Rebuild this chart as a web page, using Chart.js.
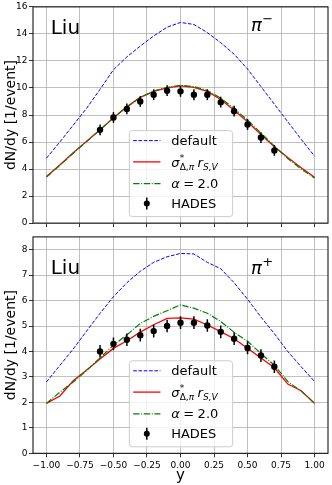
<!DOCTYPE html>
<html>
<head>
<meta charset="utf-8">
<script src="https://cdn.jsdelivr.net/npm/chart.js@4/dist/chart.umd.min.js"></script>
<style>
  html, body { margin: 0; padding: 0; background: #fff; }
  #top { position: absolute; left: 0; top: 0; }
  #bot { position: absolute; left: 0; top: 230px; }
</style>
</head>
<body>
<canvas id="top" width="332" height="230"></canvas>
<canvas id="bot" width="332" height="255"></canvas>
<script>
// rapidity grid of the model curves and of the HADES points
const rapidity = [-1.0, -0.9, -0.8, -0.7, -0.6, -0.5, -0.4, -0.3, -0.2, -0.1, 0.0, 0.1, 0.2, 0.3, 0.4, 0.5, 0.6, 0.7, 0.8, 0.9, 1.0];
const hadesRapidity = [-0.6, -0.5, -0.4, -0.3, -0.2, -0.1, 0.0, 0.1, 0.2, 0.3, 0.4, 0.5, 0.6, 0.7];

// pi- panel
const piMinusDefault = [4.8, 6.0, 7.25, 8.5, 9.9, 11.35, 12.3, 13.1, 13.85, 14.5, 14.85, 14.7, 14.1, 13.35, 12.5, 11.4, 10.1, 8.8, 7.5, 6.2, 4.95];
const piMinusSigma = [3.45, 4.3, 5.2, 6.05, 6.9, 7.8, 8.6, 9.3, 9.75, 10.0, 10.15, 10.05, 9.75, 9.15, 8.35, 7.5, 6.55, 5.65, 4.85, 4.1, 3.4];
const piMinusAlpha = [3.4, 4.27, 5.17, 6.03, 6.9, 7.8, 8.6, 9.3, 9.78, 10.05, 10.2, 10.1, 9.82, 9.25, 8.47, 7.63, 6.66, 5.7, 4.78, 4.0, 3.33];
const piMinusHades = [6.9, 7.82, 8.45, 9.0, 9.5, 9.8, 9.75, 9.5, 9.5, 8.95, 8.28, 7.3, 6.33, 5.38];
const piMinusHadesErr = [0.4, 0.4, 0.4, 0.4, 0.4, 0.4, 0.4, 0.4, 0.4, 0.4, 0.4, 0.4, 0.4, 0.4];

// pi+ panel
const piPlusDefault = [2.8, 3.45, 4.1, 4.8, 5.5, 6.15, 6.7, 7.15, 7.5, 7.72, 7.85, 7.83, 7.5, 7.25, 6.7, 6.05, 5.35, 4.7, 4.0, 3.4, 2.82];
const piPlusSigma = [1.96, 2.25, 2.85, 3.27, 3.7, 4.12, 4.42, 4.76, 5.05, 5.3, 5.32, 5.27, 5.04, 4.78, 4.5, 4.13, 3.74, 3.36, 2.72, 2.46, 1.96];
const piPlusAlpha = [1.96, 2.4, 2.8, 3.25, 3.75, 4.25, 4.65, 5.1, 5.38, 5.6, 5.83, 5.7, 5.5, 5.18, 4.75, 4.4, 3.92, 3.46, 2.82, 2.44, 1.96];
const piPlusHades = [4.0, 4.3, 4.46, 4.64, 4.8, 5.0, 5.13, 5.13, 5.02, 4.77, 4.5, 4.14, 3.84, 3.4];
const piPlusHadesErr = [0.25, 0.25, 0.25, 0.25, 0.25, 0.25, 0.25, 0.25, 0.25, 0.25, 0.25, 0.25, 0.25, 0.25];

// ticks
const xTicks = [-1.0, -0.75, -0.5, -0.25, 0.0, 0.25, 0.5, 0.75, 1.0];
const yTicksTop = [0, 2, 4, 6, 8, 10, 12, 14, 16];
const yTicksBottom = [0, 1, 2, 3, 4, 5, 6, 7, 8];

Chart.defaults.font.family = '"DejaVu Sans"';
Chart.defaults.color = '#000';

const FONT = '"DejaVu Sans"';

function pairs(xs, ys) {
  return xs.map((x, i) => ({ x: x, y: ys[i] }));
}

function fixTicks(values) {
  return function (scale) {
    scale.ticks = values.map(v => ({ value: v }));
  };
}

// error bars, legend box, panel labels and the frame
const panelDecor = {
  id: 'panelDecor',
  afterDatasetsDraw(chart, args, opts) {
    const ctx = chart.ctx;
    const a = chart.chartArea;
    const xs = chart.scales.x, ys = chart.scales.y;
    const sets = chart.data.datasets;

    ctx.save();
    ctx.beginPath();
    ctx.rect(a.left, a.top, a.width, a.height);
    ctx.clip();
    sets.forEach(ds => {
      if (!ds.errors) return;
      ctx.strokeStyle = '#000';
      ctx.lineWidth = 1.5;
      ds.data.forEach((p, j) => {
        const px = xs.getPixelForValue(p.x);
        ctx.beginPath();
        ctx.moveTo(px, ys.getPixelForValue(p.y - ds.errors[j]));
        ctx.lineTo(px, ys.getPixelForValue(p.y + ds.errors[j]));
        ctx.stroke();
      });
    });
    ctx.restore();

    // panel texts
    ctx.save();
    ctx.fillStyle = '#000';
    ctx.textBaseline = 'alphabetic';
    ctx.textAlign = 'left';
    ctx.font = '20px ' + FONT;
    ctx.fillText(opts.model, a.left + 17.7, a.top + opts.modelDy);
    ctx.font = 'italic 18px ' + FONT;
    const px0 = a.left + 218;
    ctx.fillText('\u03c0', px0, a.top + opts.piDy);
    const pw = ctx.measureText('\u03c0').width;
    ctx.font = '13px ' + FONT;
    ctx.fillText(opts.charge, px0 + pw + 0.5, a.top + opts.piDy - 8);
    ctx.restore();

    // legend
    const bw = 103.3, bh = 86;
    const bx = a.left + (a.width - bw) / 2;
    const by = a.bottom - 7 - bh;
    ctx.save();
    ctx.beginPath();
    ctx.roundRect(bx + 0.5, by + 0.5, bw, bh, 3);
    ctx.fillStyle = 'rgba(255,255,255,0.8)';
    ctx.fill();
    ctx.strokeStyle = '#cccccc';
    ctx.lineWidth = 1;
    ctx.stroke();

    const rows = [10.5, 31.8, 53.5, 73.5];
    const x0 = bx + 4.3, x1 = bx + 31.6, tx = bx + 42.3;
    sets.forEach((ds, i) => {
      const ry = by + rows[i];
      if (ds.showLine === false) {
        ctx.setLineDash([]);
        ctx.strokeStyle = '#000';
        ctx.lineWidth = 1.5;
        ctx.beginPath();
        ctx.moveTo((x0 + x1) / 2, ry - 6);
        ctx.lineTo((x0 + x1) / 2, ry + 6);
        ctx.stroke();
        ctx.fillStyle = '#000';
        ctx.beginPath();
        ctx.arc((x0 + x1) / 2, ry, 3, 0, Math.PI * 2);
        ctx.fill();
      } else {
        ctx.setLineDash(ds.borderDash || []);
        ctx.strokeStyle = ds.borderColor;
        ctx.lineWidth = ds.borderWidth;
        ctx.beginPath();
        ctx.moveTo(x0, ry);
        ctx.lineTo(x1, ry);
        ctx.stroke();
      }
      ctx.setLineDash([]);
      ctx.fillStyle = '#000';
      const base = ry + 4.6;
      if (i === 1) {
        // sigma*_{Delta,pi} r_{S,V}
        ctx.font = 'italic 13px ' + FONT;
        ctx.fillText('\u03c3', tx, base);
        let x = tx + ctx.measureText('\u03c3').width + 0.3;
        ctx.font = '9px ' + FONT;
        ctx.fillText('*', x, base - 5.5);
        ctx.fillText('\u0394,', x, base + 3);
        let w = ctx.measureText('\u0394,').width;
        ctx.font = 'italic 9px ' + FONT;
        ctx.fillText('\u03c0', x + w, base + 3);
        w += ctx.measureText('\u03c0').width;
        x += w + 3.3;
        ctx.font = 'italic 13px ' + FONT;
        ctx.fillText('r', x, base);
        x += ctx.measureText('r').width + 0.2;
        ctx.font = 'italic 9px ' + FONT;
        ctx.fillText('S,V', x, base + 3);
      } else if (i === 2) {
        ctx.font = 'italic 13px ' + FONT;
        ctx.fillText('\u03b1', tx, base);
        let x = tx + ctx.measureText('\u03b1').width + 3.5;
        ctx.font = '13px ' + FONT;
        ctx.fillText('=', x, base);
        x += ctx.measureText('=').width + 3.5;
        ctx.fillText('2.0', x, base);
      } else {
        ctx.font = '13px ' + FONT;
        ctx.fillText(ds.label, tx, base);
      }
    });
    ctx.restore();

    // axes frame
    ctx.save();
    ctx.strokeStyle = '#000';
    ctx.lineWidth = 1;
    ctx.strokeRect(a.left, a.top, a.width, a.height);
    ctx.restore();
  }
};

function makePanel(canvas, cfg) {
  const datasets = [
    {
      label: 'default',
      data: pairs(rapidity, cfg.def),
      borderColor: '#0000ff',
      borderWidth: 1,
      borderDash: [3.7, 1.6],
      pointRadius: 0,
      order: 3
    },
    {
      label: 'sigma r',
      data: pairs(rapidity, cfg.sigma),
      borderColor: '#ff0000',
      borderWidth: 1.3,
      pointRadius: 0,
      order: 2
    },
    {
      label: 'alpha = 2.0',
      data: pairs(rapidity, cfg.alpha),
      borderColor: '#008000',
      borderWidth: 1.2,
      borderDash: [6.4, 1.6, 1, 1.6],
      pointRadius: 0,
      order: 1
    },
    {
      label: 'HADES',
      data: pairs(hadesRapidity, cfg.hades),
      errors: cfg.err,
      showLine: false,
      pointRadius: 3.2,
      pointBackgroundColor: '#000',
      pointBorderWidth: 0,
      order: 0
    }
  ];

  return new Chart(canvas.getContext('2d'), {
    type: 'line',
    data: { datasets: datasets },
    plugins: [panelDecor],
    options: {
      responsive: false,
      animation: false,
      layout: { padding: { top: cfg.padTop, right: 1.3, left: 0, bottom: 0 } },
      plugins: {
        legend: { display: false },
        tooltip: { enabled: false },
        panelDecor: cfg.decor
      },
      scales: {
        x: {
          type: 'linear',
          min: -1.1,
          max: 1.1,
          afterBuildTicks: fixTicks(xTicks),
          afterFit: s => { s.height = cfg.xHeight; },
          grid: { color: '#b0b0b0', lineWidth: 0.8, tickColor: '#000', tickLength: 4 },
          border: { display: false },
          ticks: {
            display: cfg.showX,
            font: { size: 9 },
            padding: 3,
            maxRotation: 0,
            callback: v => v.toFixed(2).replace('-', '\u2212')
          },
          title: {
            display: cfg.showX,
            text: 'y',
            font: { size: 15 },
            padding: { top: 0, bottom: 0 }
          }
        },
        y: {
          min: 0,
          max: cfg.yMax,
          afterBuildTicks: fixTicks(cfg.yTicks),
          afterFit: s => { s.width = 33; },
          grid: { color: '#b0b0b0', lineWidth: 0.8, tickColor: '#000', tickLength: 4 },
          border: { display: false },
          ticks: {
            font: { size: 9 },
            padding: 1.5,
            callback: v => String(v)
          },
          title: {
            display: true,
            text: 'dN/dy [1/event]',
            font: { size: 14 },
            padding: { top: 3, bottom: 0 }
          }
        }
      }
    }
  });
}

makePanel(document.getElementById('top'), {
  def: piMinusDefault,
  sigma: piMinusSigma,
  alpha: piMinusAlpha,
  hades: piMinusHades,
  err: piMinusHadesErr,
  yMax: 16,
  yTicks: yTicksTop,
  padTop: 4,
  xHeight: 4.7,
  showX: false,
  decor: { model: 'Liu', charge: '\u2212', modelDy: 27, piDy: 24.3 }
});

makePanel(document.getElementById('bot'), {
  def: piPlusDefault,
  sigma: piPlusSigma,
  alpha: piPlusAlpha,
  hades: piPlusHades,
  err: piPlusHadesErr,
  yMax: 8.5,
  yTicks: yTicksBottom,
  padTop: 2.7,
  xHeight: 31.7,
  showX: true,
  decor: { model: 'Liu', charge: '+', modelDy: 37.3, piDy: 36.6 }
});
</script>
</body>
</html>
